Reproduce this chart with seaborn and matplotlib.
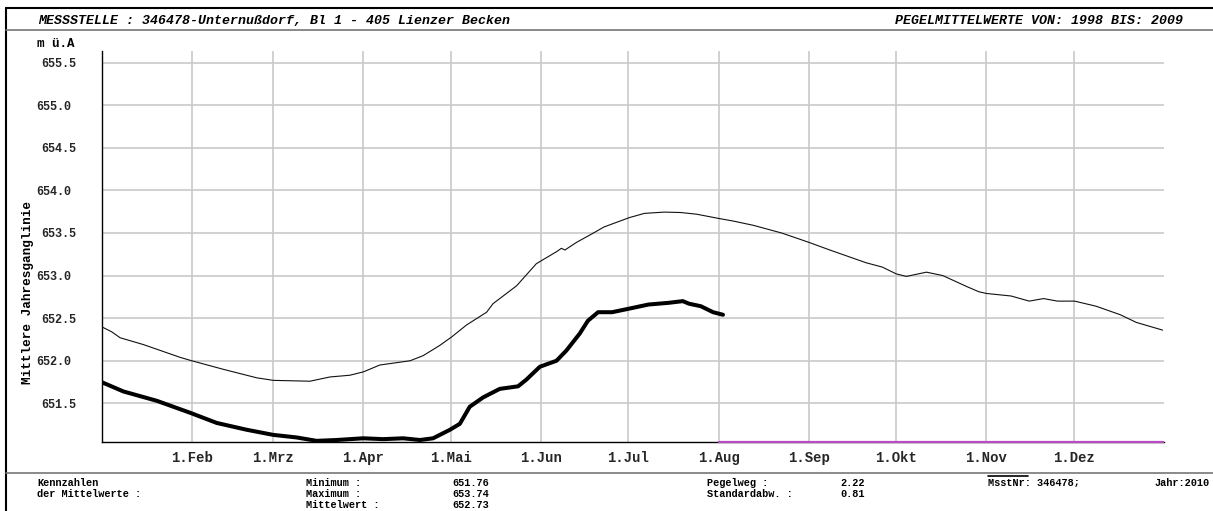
import matplotlib
matplotlib.use("Agg")
import matplotlib.pyplot as plt
from matplotlib.lines import Line2D
import pandas as pd
import seaborn as sns

# ---------------- data ----------------
# day of year (0 = 1 Jan) and level (m ü.A) of the long-term mean curve 1998-2009
mean_days = [0, 3.5, 6.4, 14.4, 27, 31, 41.8, 53.3, 59, 71.6, 78.5, 85.3, 90, 95.6,
             106, 110.5, 116.2, 120.3, 125.4, 132.3, 134.5, 142.6, 149.4, 156.3, 158,
             159.2, 163.2, 168.5, 172.6, 181.3, 186.5, 193.4, 199, 204.5, 212.1, 217,
             223.9, 233.6, 243, 250.2, 262.7, 268.2, 273, 276.5, 283.4, 289, 297.3,
             301.4, 304, 312.5, 318.7, 323.6, 328.4, 334.3, 341.7, 350, 355.5, 364.5]
mean_vals = [652.40, 652.34, 652.27, 652.19, 652.04, 652.00, 651.90, 651.80, 651.77,
             651.76, 651.81, 651.83, 651.87, 651.95, 652.00, 652.06, 652.18, 652.28,
             652.42, 652.57, 652.67, 652.88, 653.14, 653.28, 653.32, 653.30, 653.39,
             653.49, 653.57, 653.68, 653.73, 653.745, 653.74, 653.72, 653.67, 653.64,
             653.59, 653.50, 653.39, 653.30, 653.15, 653.10, 653.02, 652.99, 653.04,
             653.00, 652.87, 652.81, 652.79, 652.76, 652.70, 652.73, 652.70, 652.70,
             652.64, 652.54, 652.45, 652.36]

# current year 2010
cur_days = [0, 7.5, 19, 30.4, 39.6, 49.9, 59, 67, 73.9, 80.8, 89.9, 96.8, 103.6, 109.4,
            113.9, 119.7, 123.1, 126.5, 131.1, 136.8, 143.1, 146, 150.6, 156.3, 159.7,
            164.3, 167.1, 170.6, 175.4, 182.4, 187.9, 194.8, 199.7, 201.8, 205.9, 210.1,
            213.5]
cur_vals = [651.75, 651.64, 651.53, 651.39, 651.27, 651.19, 651.13, 651.10, 651.06,
            651.07, 651.09, 651.08, 651.09, 651.07, 651.09, 651.19, 651.26, 651.46,
            651.57, 651.67, 651.70, 651.78, 651.93, 652.00, 652.12, 652.32, 652.47,
            652.57, 652.57, 652.62, 652.66, 652.68, 652.70, 652.67, 652.64, 652.57,
            652.54]

# no data (rest of 2010) drawn on the floor of the chart
gap_days = [212, 364.5]
gap_vals = [651.05, 651.05]

month_starts = [0, 31, 59, 90, 120, 151, 181, 212, 243, 273, 304, 334]
month_labels = ["", "1.Feb", "1.Mrz", "1.Apr", "1.Mai", "1.Jun", "1.Jul", "1.Aug",
                "1.Sep", "1.Okt", "1.Nov", "1.Dez"]
y_major = [651.5, 652.0, 652.5, 653.0, 653.5, 654.0, 654.5, 655.0, 655.5]

header_left = "MESSSTELLE : 346478-Unternußdorf, Bl 1 - 405 Lienzer Becken"
header_right = "PEGELMITTELWERTE VON: 1998 BIS: 2009"
unit_label = "m ü.A"
y_title = "Mittlere Jahresganglinie"
stat_names1 = ["Minimum :", "Maximum :", "Mittelwert :"]
stat_vals1 = ["651.76", "653.74", "652.73"]
stat_names2 = ["Pegelweg :", "Standardabw. :"]
stat_vals2 = ["2.22", "0.81"]
station_txt = "MsstNr: 346478;"
year_txt = "Jahr:2010"

# ---------------- style ----------------
sns.set_theme(style="white")
FAM = ["Liberation Mono", "DejaVu Sans Mono"]
plt.rcParams["font.family"] = FAM
plt.rcParams["font.weight"] = "bold"

W, H = 1213, 511
fig = plt.figure(figsize=(W / 100, H / 100), dpi=100)
fig.patch.set_facecolor("white")


def fx(x):
    return x / W


def fy(y):
    return 1 - y / H


ax_l, ax_r, ax_t, ax_b = 101.5, 1164, 51.5, 441.7
ax = fig.add_axes([fx(ax_l), fy(ax_b), (ax_r - ax_l) / W, (ax_b - ax_t) / H])
ax.set_facecolor("white")

df_mean = pd.DataFrame({"day": mean_days, "level": mean_vals})
df_cur = pd.DataFrame({"day": cur_days, "level": cur_vals})
df_gap = pd.DataFrame({"day": gap_days, "level": gap_vals})

sns.lineplot(data=df_mean, x="day", y="level", ax=ax, color="#111111",
             linewidth=0.8, estimator=None, zorder=4)
sns.lineplot(data=df_cur, x="day", y="level", ax=ax, color="black",
             linewidth=2.9, estimator=None, zorder=5)
sns.lineplot(data=df_gap, x="day", y="level", ax=ax, color="#b84cc4",
             linewidth=1.6, estimator=None, zorder=6, clip_on=False)

ax.set_xlim(0, 365)
ax.set_ylim(651.05, 655.63)
ax.set_xlabel("")
ax.set_ylabel("")

for s in ["top", "right"]:
    ax.spines[s].set_visible(False)
for s in ["left", "bottom"]:
    ax.spines[s].set_color("black")
    ax.spines[s].set_linewidth(1.0)

# x ticks
ax.set_xticks(month_starts)
ax.set_xticklabels(month_labels)
ax.set_xticks([m + d for m in month_starts for d in (9, 19)], minor=True)
ax.tick_params(axis="x", which="major", direction="out", length=5, width=1,
               color="black", pad=1.5, labelsize=10)
ax.tick_params(axis="x", which="minor", direction="out", length=2.5, width=1,
               color="black")

# y ticks
ax.set_yticks(y_major)
ax.set_yticklabels([f"{v:.1f}" for v in y_major])
minor_y = [round(651.1 + 0.1 * i, 1) for i in range(46)]
ax.set_yticks([v for v in minor_y if v not in y_major], minor=True)
ax.tick_params(axis="y", which="major", direction="out", length=5, width=1,
               color="black", pad=13.5, labelsize=8.5)
ax.tick_params(axis="y", which="minor", direction="out", length=2.3, width=1,
               color="black")
for t, v in zip(ax.yaxis.get_major_ticks(), y_major):
    if abs(v - round(v)) < 1e-6:
        t._apply_params(size=8)

ax.grid(True, which="major", color="#c9c9c9", linewidth=1.2)
ax.set_axisbelow(True)

# ---------------- frame and texts ----------------
def hline(x0, x1, y, color, lw):
    fig.add_artist(Line2D([fx(x0), fx(x1)], [fy(y), fy(y)], color=color,
                          linewidth=lw, transform=fig.transFigure))


def vline(x, y0, y1, color, lw):
    fig.add_artist(Line2D([fx(x), fx(x)], [fy(y0), fy(y1)], color=color,
                          linewidth=lw, transform=fig.transFigure))


hline(6, W, 8.5, "black", 1.5)
vline(6, 8.5, H, "black", 1.5)
hline(6, W, 30, "#777777", 1.2)
hline(6, W, 473, "#777777", 1.2)

tkw = dict(family=FAM, weight="bold", color="black", transform=fig.transFigure)
fig.text(fx(38), fy(21), header_left, ha="left", va="center", style="italic",
         fontsize=9.5, **tkw)
fig.text(fx(1183), fy(21), header_right, ha="right", va="center", style="italic",
         fontsize=9.5, **tkw)
fig.text(fx(37), fy(44), unit_label, ha="left", va="center", fontsize=9, **tkw)
fig.text(fx(28), fy(292), y_title, ha="center", va="center", rotation=90,
         fontsize=9.2, **tkw)

FS = 7.4
rows = [482.5, 494.0, 505.3]
fig.text(fx(37), fy(rows[0]), "Kennzahlen", ha="left", va="center", fontsize=FS, **tkw)
fig.text(fx(37), fy(rows[1]), "der Mittelwerte :", ha="left", va="center",
         fontsize=FS, **tkw)
for i, (n, v) in enumerate(zip(stat_names1, stat_vals1)):
    fig.text(fx(306), fy(rows[i]), n, ha="left", va="center", fontsize=FS, **tkw)
    fig.text(fx(452), fy(rows[i]), v, ha="left", va="center", fontsize=FS, **tkw)
for i, (n, v) in enumerate(zip(stat_names2, stat_vals2)):
    fig.text(fx(707), fy(rows[i]), n, ha="left", va="center", fontsize=FS, **tkw)
    fig.text(fx(840), fy(rows[i]), v, ha="left", va="center", fontsize=FS, **tkw)
fig.text(fx(988), fy(rows[0]), station_txt, ha="left", va="center", fontsize=FS,
         **tkw)
fig.text(fx(1210), fy(rows[0]), year_txt, ha="right", va="center", fontsize=FS,
         **tkw)
hline(988, 1028, 475.5, "black", 1.2)

fig.savefig("out.png", dpi=100, facecolor="white")
